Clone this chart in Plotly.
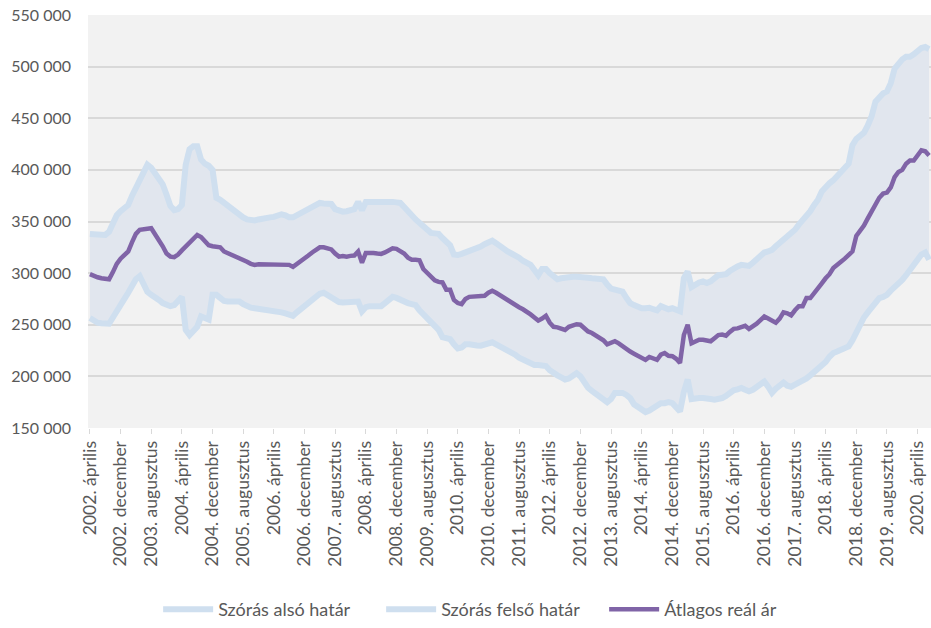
import plotly.graph_objects as go

MONTH_NAMES = ["január", "február", "március", "április", "május", "június",
               "július", "augusztus", "szeptember", "október", "november", "december"]

# monthly categories: 2002. április ... 2020. július
months = []
for y in range(2002, 2021):
    for m in range(12):
        if (y == 2002 and m < 3) or (y == 2020 and m > 6):
            continue
        months.append(f"{y}. {MONTH_NAMES[m]}")

tick_labels = months[::8]

avg_price = [
    299000, 297000, 296000, 295000, 294500, 294000, 301000, 309000, 314000, 318000,
    321000, 330000, 338000, 342000, 343000, 343000, 343500, 338000, 333000, 326000,
    319000, 316000, 315500, 318000, 322000, 326000, 330000, 334000, 337000, 335000,
    331000, 327000, 326000, 325500, 325000, 321000, 319500, 318000, 316000, 315000,
    313000, 311000, 309000, 308000, 308500, 308500, 308500, 308700, 308300, 309000,
    309000, 309000, 308000, 306000, 308500, 311000, 314500, 317000, 320000, 322500,
    325000, 325000, 324500, 323000, 319000, 316000, 316500, 316000, 316700, 317000,
    321000, 310000, 319500, 320000, 319500, 319000, 318600, 320000, 322000, 324000,
    323500, 321500, 319000, 315000, 313000, 313000, 312500, 304000, 300000, 297000,
    293000, 291500, 291000, 284000, 284000, 274000, 271000, 270000, 275000, 277000,
    277000, 277000, 277500, 278000, 281000, 283000, 281000, 278500, 276000, 273500,
    271000, 269000, 267000, 265000, 263000, 260000, 257000, 254000, 256000, 258700,
    252000, 248000, 247500, 246500, 245000, 248000, 249500, 250500, 250000, 247000,
    243500, 242000, 240000, 238000, 235000, 231000, 232500, 234000, 232000, 229000,
    226000, 224000, 222000, 220000, 218000, 216000, 218800, 217000, 216000, 221000,
    222600, 220000, 219500, 217000, 213000, 240000, 250000, 232000, 234000, 235500,
    235500, 235000, 234000, 237000, 240000, 240500, 239400, 243000, 246000, 246500,
    247500, 249000, 246000, 248000, 251000, 254500, 258000, 256000, 254000, 252000,
    256000, 262000, 261000, 259000, 264000, 268000, 268000, 275800, 275800, 280000,
    285000, 290000, 295000, 299000, 305000, 307500, 311000, 314000, 317000, 321000,
    336000, 341000, 346000, 353000, 360000, 367000, 373000, 377000, 378000, 383000,
    393000, 398000, 400000, 406000, 409000, 409000, 414000, 419000, 418000, 414000,
]

upper_bound = [
    338000, 337500, 337000, 337000, 337000, 340000, 348000, 356000, 360000, 363000,
    366000, 375000, 382000, 388000, 396000, 405000, 402000, 397000, 391000, 386000,
    376000, 365000, 361000, 362000, 366000, 405000, 420000, 423000, 423000, 410000,
    406000, 404000, 400000, 373000, 371000, 368000, 366000, 363000, 360000, 356000,
    354000, 352000, 351000, 351000, 352000, 353000, 353500, 354000, 354500, 356000,
    357000, 356000, 354000, 354000, 356000, 357500, 359500, 362000, 365000, 367000,
    368000, 367500, 367000, 367000, 362000, 360000, 359500, 360000, 360500, 362000,
    369000, 361000, 369000, 369000, 370000, 370000, 370000, 370000, 369500, 369000,
    368500, 368000, 364000, 359000, 356000, 352000, 349000, 345000, 342000, 339000,
    338500, 338000, 334000, 330000, 327000, 318000, 317500, 318600, 320000, 321000,
    322000, 324000, 325700, 328000, 330000, 331500, 329000, 326000, 323000, 321000,
    319000, 317700, 315000, 312000, 310000, 308000, 303000, 298000, 304000, 304000,
    300000, 296000, 294000, 295000, 296000, 296000, 296500, 296500, 296500, 296700,
    295500, 295000, 295000, 294500, 294000, 289000, 285000, 284000, 283000, 282000,
    276000, 271000, 269000, 267000, 266000, 266000, 266500, 265000, 264000, 268000,
    267000, 265000, 266000, 264000, 263000, 295000, 301500, 286500, 289000, 291000,
    292000, 290500, 292000, 295000, 298000, 298500, 299000, 302000, 305000, 306500,
    308000, 308000, 307000, 310000, 314000, 318000, 320000, 321000, 322500, 326000,
    329000, 332000, 335000, 339000, 342000, 347000, 351000, 355000, 360000, 366000,
    371000, 379000, 384000, 387000, 390000, 394000, 399000, 402000, 406000, 424000,
    430000, 433000, 436000, 443000, 452000, 466000, 471000, 474000, 476000, 484000,
    498000, 503000, 507000, 509600, 509600, 512000, 515000, 518000, 519000, 517000,
]

lower_bound = [
    256500, 254000, 252000, 251500, 251000, 251000, 257000, 264000, 270000, 275000,
    281000, 288000, 294000, 297000, 289000, 282000, 279000, 277000, 274000, 271000,
    269000, 268000, 269000, 273000, 277000, 245000, 240000, 244000, 248000, 258000,
    256000, 255000, 279000, 279000, 276000, 273000, 272500, 272500, 272500, 272500,
    270000, 268000, 266500, 266000, 265500, 265000, 265000, 264500, 264000, 263000,
    262000, 261000, 260000, 258700, 262000, 265000, 269000, 272000, 275000, 278000,
    280000, 281000, 278500, 276000, 274000, 272000, 271500, 271500, 272000, 272000,
    272500, 263000, 267000, 268000, 268000, 268000, 268000, 271000, 274000, 277000,
    276000, 274000, 272500, 271000, 270000, 269000, 264000, 260000, 256000, 252000,
    248000, 245000, 238000, 237000, 236000, 231000, 227000, 228000, 231000, 231000,
    230000, 230000, 229700, 231000, 232000, 233000, 231000, 229000, 227000, 226000,
    224000, 221000, 218000, 216000, 214000, 212000, 211000, 211000, 210500, 210000,
    206000, 203000, 201000, 199000, 197000, 198000, 201000, 203000, 200000, 193000,
    189000, 186000, 183000, 181000, 178000, 175000, 178000, 184000, 184000, 184000,
    182000, 179000, 173000, 170000, 167000, 165500, 167000, 169400, 172000, 174000,
    174000, 175000, 174000, 170000, 166000, 185000, 197000, 178000, 179000, 179000,
    179000, 179000, 178000, 177500, 178000, 179000, 181000, 184000, 186500, 187500,
    188800, 187000, 185500, 187000, 190000, 193000, 195000, 190000, 184000, 188000,
    192000, 194000, 191000, 190000, 192000, 194000, 195000, 198000, 201000, 204000,
    206500, 210000, 214000, 219000, 222600, 224000, 225500, 227000, 229000, 235000,
    242000, 251600, 257000, 262000, 266000, 270000, 275800, 277000, 279000, 283000,
    286000, 290000, 293500, 298000, 303000, 307000, 311000, 318000, 320000, 313000,
]

series_names = ["Szórás alsó határ", "Szórás felső határ", "Átlagos reál ár"]
y_ticks = [150000, 200000, 250000, 300000, 350000, 400000, 450000, 500000, 550000]

BAND_LINE = "#CFDFEF"
BAND_FILL = "#E1E6EE"
AVG_LINE = "#8064A7"
TEXT = "#595959"
GRID = "#D9D9D9"
FONT = "Lato, 'Open Sans', sans-serif"

fig = go.Figure()
# shaded band between the two bounds (no legend entries)
fig.add_trace(go.Scatter(
    x=months, y=lower_bound, mode="lines", line=dict(width=0, color=BAND_FILL),
    showlegend=False, hoverinfo="skip",
))
fig.add_trace(go.Scatter(
    x=months, y=upper_bound, mode="lines", line=dict(width=0, color=BAND_FILL),
    fill="tonexty", fillcolor=BAND_FILL, showlegend=False, hoverinfo="skip",
))
# band edge lines
fig.add_trace(go.Scatter(
    x=months, y=lower_bound, name=series_names[0], mode="lines",
    line=dict(color=BAND_LINE, width=6),
))
fig.add_trace(go.Scatter(
    x=months, y=upper_bound, name=series_names[1], mode="lines",
    line=dict(color=BAND_LINE, width=6),
))
fig.add_trace(go.Scatter(
    x=months, y=avg_price, name=series_names[2], mode="lines",
    line=dict(color=AVG_LINE, width=4.5),
))

fig.update_layout(
    width=931, height=628,
    margin=dict(l=88, r=0, t=15, b=200),
    paper_bgcolor="white",
    plot_bgcolor="#F2F2F2",
    separators=". ",
    font=dict(family=FONT, size=16, color=TEXT),
    showlegend=True,
    legend=dict(
        orientation="h", traceorder="normal",
        x=0.48, xanchor="center", y=-0.44, yanchor="middle",
        font=dict(size=18, color=TEXT), itemwidth=50,
        entrywidth=158,
        bgcolor="rgba(0,0,0,0)",
    ),
    xaxis=dict(
        type="category",
        categoryorder="array", categoryarray=months,
        tickmode="array", tickvals=tick_labels, ticktext=tick_labels,
        tickangle=-90,
        ticks="outside", ticklen=5, tickcolor=GRID, tickwidth=1,
        showgrid=False, zeroline=False, showline=False,
        range=[-0.5, len(months) - 0.5],
        tickfont=dict(size=17.5, color=TEXT),
        automargin=False,
    ),
    yaxis=dict(
        range=[150000, 550000],
        tickmode="array", tickvals=y_ticks,
        tickformat=",d",
        showgrid=True, gridcolor=GRID, gridwidth=1.5,
        zeroline=False, showline=False,
        ticks="", ticklabelstandoff=16,
        tickfont=dict(size=16, color=TEXT),
        automargin=False,
    ),
)

fig.write_html(
    "out.html",
    config={"displayModeBar": False, "responsive": False},
    post_script="document.body.style.margin='0';document.body.style.overflow='hidden';",
)
